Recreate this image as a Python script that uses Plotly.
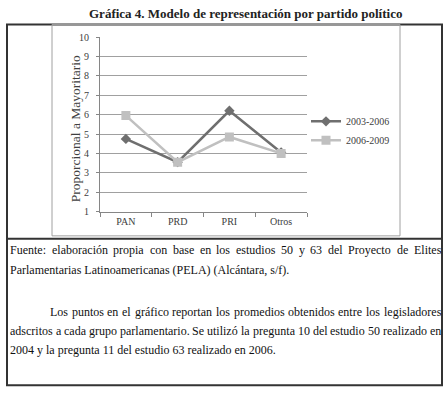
import plotly.graph_objects as go

W, H = 448, 399

categories = ["PAN", "PRD", "PRI", "Otros"]
series_names = ["2003-2006", "2006-2009"]
values_2003 = [4.75, 3.55, 6.2, 4.05]
values_2006 = [5.95, 3.55, 4.85, 4.0]
y_ticks = [1, 2, 3, 4, 5, 6, 7, 8, 9, 10]

title_text = "Gráfica 4. Modelo de representación por partido político"
y_title = "Proporcional a Mayoritario"
note_lines = [
    "Fuente: elaboración propia con base en los estudios 50 y 63 del Proyecto de Elites",
    "Parlamentarias Latinoamericanas (PELA) (Alcántara, s/f).",
    "Los puntos en el gráfico reportan los promedios obtenidos entre los legisladores",
    "adscritos a cada grupo parlamentario. Se utilizó la pregunta 10 del estudio 50 realizado en",
    "2004 y la pregunta 11 del estudio 63 realizado en 2006.",
]
justified = [True, False, True, True, False]


def px(x):
    return x / W


def py(y):
    return 1 - y / H


SERIF = "Liberation Serif, Times New Roman, serif"

# approximate Times widths (1/1000 em) for text justification
TW = {
    'a': 444, 'b': 500, 'c': 444, 'd': 500, 'e': 444, 'f': 333, 'g': 500, 'h': 500,
    'i': 278, 'j': 278, 'k': 500, 'l': 278, 'm': 778, 'n': 500, 'o': 500, 'p': 500,
    'q': 500, 'r': 333, 's': 389, 't': 278, 'u': 500, 'v': 500, 'w': 722, 'x': 500,
    'y': 500, 'z': 444, 'á': 444, 'é': 444, 'í': 278, 'ó': 500, 'ú': 500,
    'E': 611, 'F': 556, 'L': 611, 'P': 556, 'S': 556, 'A': 722,
    '.': 250, ',': 250, ':': 278, ' ': 250, '(': 333, ')': 333, '/': 278,
}


def text_w(s, size):
    return sum(TW.get(ch, 500) for ch in s) * size / 1000.0


fig = go.Figure()
fig.add_trace(go.Scatter(
    x=categories, y=values_2003, name=series_names[0], mode="lines+markers",
    line=dict(color="#6f6f6f", width=2.5),
    marker=dict(symbol="diamond", size=8, color="#6f6f6f"),
))
fig.add_trace(go.Scatter(
    x=categories, y=values_2006, name=series_names[1], mode="lines+markers",
    line=dict(color="#c0c0c0", width=2.5),
    marker=dict(symbol="square", size=9, color="#c0c0c0"),
))

fig.update_layout(
    width=W, height=H,
    margin=dict(l=0, r=0, t=0, b=0),
    paper_bgcolor="white", plot_bgcolor="white",
    font=dict(family=SERIF, color="#404040", size=10),
    showlegend=True,
    legend=dict(x=px(306), y=py(104), xanchor="left", yanchor="top",
                font=dict(size=10, color="#404040", family=SERIF),
                bgcolor="rgba(0,0,0,0)", itemwidth=30, tracegroupgap=0),
    xaxis=dict(domain=[px(100), px(307)], type="category", range=[-0.5, 3.5],
               showline=True, linecolor="#868686", linewidth=1,
               ticks="outside", tickson="boundaries", ticklen=4, tickcolor="#868686",
               showgrid=False, tickfont=dict(size=10, color="#404040")),
    yaxis=dict(domain=[py(212), py(32)], range=[1, 10], tickvals=y_ticks,
               showline=True, linecolor="#868686", linewidth=1,
               ticks="outside", ticklen=3, tickcolor="#868686", ticklabelstandoff=5,
               showgrid=True, gridcolor="#a0a0a0", gridwidth=1,
               zeroline=False, tickfont=dict(size=10, color="#404040")),
)

shapes = [
    dict(type="rect", xref="paper", yref="paper", x0=px(7), x1=px(442), y0=py(391), y1=py(19),
         line=dict(color="#333333", width=2)),
    dict(type="line", xref="paper", yref="paper", x0=px(7), x1=px(442), y0=py(240), y1=py(240),
         line=dict(color="#333333", width=2)),
    dict(type="rect", xref="paper", yref="paper", x0=px(52), x1=px(400), y0=py(237), y1=py(19),
         line=dict(color="#a0a0a0", width=1)),
]
fig.update_layout(shapes=shapes)

ann = []
ann.append(dict(text="<b>" + title_text + "</b>", xref="paper", yref="paper", x=px(245), y=py(8),
                xanchor="center", yanchor="middle", showarrow=False,
                font=dict(family=SERIF, size=13, color="#222222")))
ann.append(dict(text=y_title, xref="paper", yref="paper", x=px(75), y=py(127), textangle=-90,
                xanchor="center", yanchor="middle", showarrow=False,
                font=dict(family=SERIF, size=13.5, color="#404040")))

BODY = 12
RIGHT = 440
line_pos = [(9, 252), (9, 272), (49, 315), (9, 335), (9, 355)]
for t, just, (lx, ly) in zip(note_lines, justified, line_pos):
    if not just:
        ann.append(dict(text=t, xref="paper", yref="paper", x=px(lx), y=py(ly),
                        xanchor="left", yanchor="middle", showarrow=False, borderpad=0,
                        font=dict(family=SERIF, size=BODY, color="#111111")))
        continue
    words = t.split(" ")
    widths = [text_w(w, BODY) for w in words]
    gap = (RIGHT - lx - sum(widths)) / (len(words) - 1)
    cx = lx
    for w, ww in zip(words, widths):
        ann.append(dict(text=w, xref="paper", yref="paper", x=px(cx), y=py(ly),
                        xanchor="left", yanchor="middle", showarrow=False, borderpad=0,
                        font=dict(family=SERIF, size=BODY, color="#111111")))
        cx += ww + gap
fig.update_layout(annotations=ann)

post = (
    "document.documentElement.style.margin='0';"
    "document.documentElement.style.overflow='hidden';"
    "document.body.style.margin='0';document.body.style.padding='0';"
    "document.body.style.overflow='hidden';document.body.style.height='399px';"
    "var d=document.getElementById('{plot_id}');"
    "if(d&&d.parentElement){d.parentElement.style.height='399px';d.parentElement.style.overflow='hidden';}"
)
fig.write_html("out.html", post_script=post, config={"displayModeBar": False})
